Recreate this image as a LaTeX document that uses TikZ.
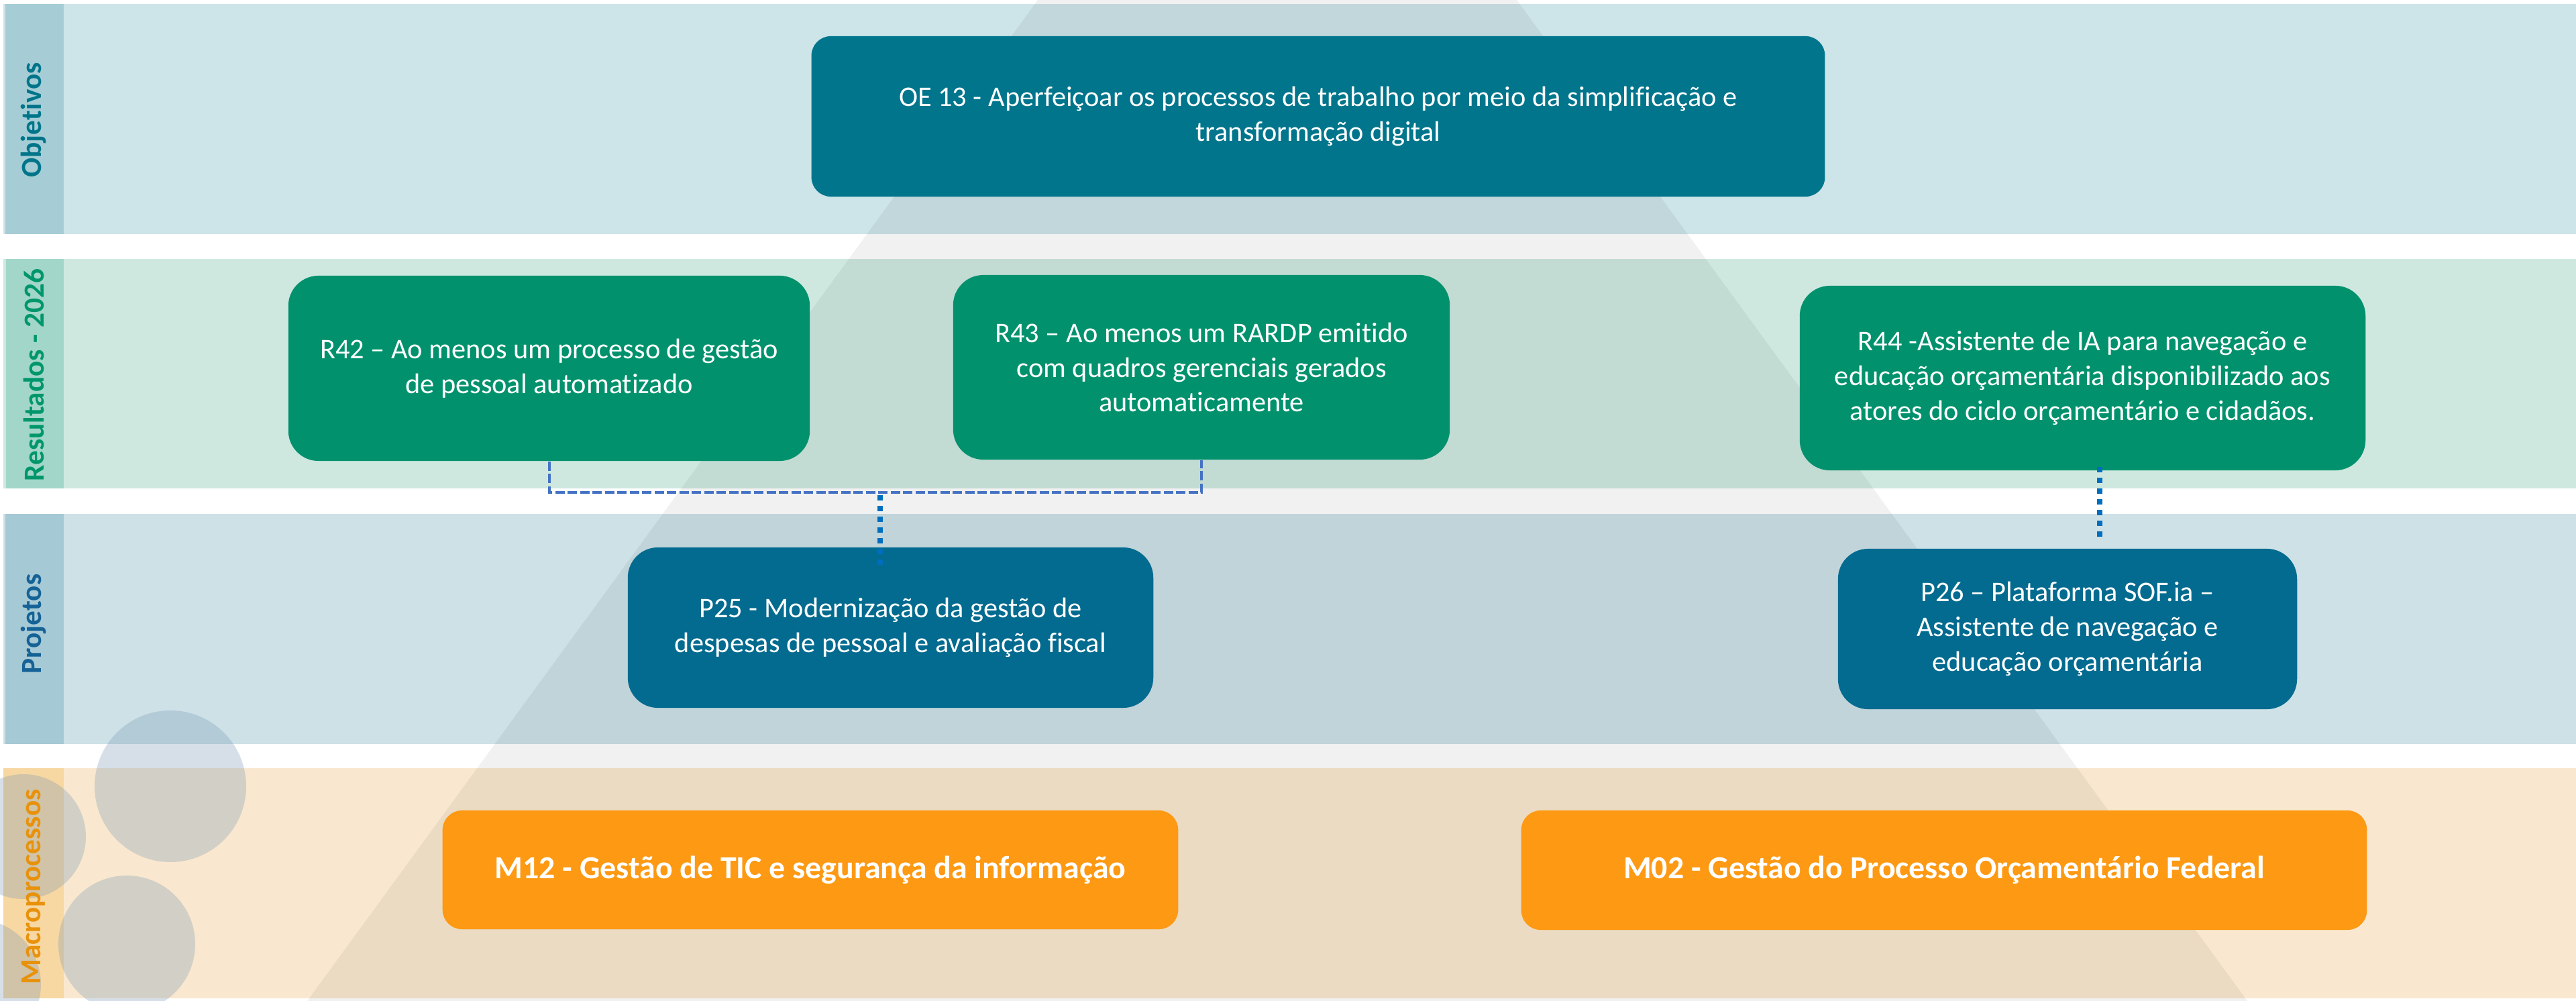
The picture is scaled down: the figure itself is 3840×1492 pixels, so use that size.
\documentclass[tikz,border=0pt]{standalone}
\usepackage{fontspec}
\setmainfont{Carlito}[Ligatures=CommonOff]
\usetikzlibrary{calc}
\definecolor{objBody}{RGB}{205,228,232}
\definecolor{objStrip}{RGB}{166,205,214}
\definecolor{objText}{RGB}{0,117,138}
\definecolor{resBody}{RGB}{206,232,224}
\definecolor{resStrip}{RGB}{162,214,200}
\definecolor{resText}{RGB}{0,150,108}
\definecolor{proBody}{RGB}{205,225,231}
\definecolor{proStrip}{RGB}{166,201,214}
\definecolor{proText}{RGB}{20,98,150}
\definecolor{macBody}{RGB}{249,232,207}
\definecolor{macStrip}{RGB}{247,215,162}
\definecolor{macText}{RGB}{232,146,12}
\definecolor{oeFill}{RGB}{0,117,140}
\definecolor{resFill}{RGB}{1,146,109}
\definecolor{proFill}{RGB}{3,107,143}
\definecolor{macFill}{RGB}{253,153,19}
\definecolor{elbowBlue}{RGB}{68,114,196}
\definecolor{dotBlue}{RGB}{0,110,190}
\definecolor{circ}{RGB}{120,150,180}
\begin{document}
\begin{tikzpicture}[x=0.01cm,y=-0.01cm,
  box/.style={inner sep=0pt, align=center, text=white,
    font=\fontsize{12.05pt}{14.7pt}\selectfont},
  rbox/.style={box, rounded corners=0.45cm},
  sbox/.style={box, rounded corners=0.29cm},
  mbox/.style={sbox, fill=macFill, font=\fontsize{13.6pt}{16pt}\selectfont\bfseries},
  lanelabel/.style={rotate=90, inner sep=0pt, font=\fontsize{12.3pt}{14pt}\selectfont\bfseries},
  elbow/.style={draw=elbowBlue, line width=0.04cm, dash pattern=on 0.14cm off 0.045cm},
  dotline/.style={draw=dotBlue, line width=0.08cm, dash pattern=on 0.08cm off 0.08cm},
  bubble/.style={fill=circ, fill opacity=0.3}
]
\useasboundingbox (0,0) rectangle (3840,1492);
\fill[white] (0,0) rectangle (3840,1492);
% lanes
\fill[objBody] (5,6) rectangle (3840,349);
\fill[objStrip] (8,6) rectangle (95,349);
\fill[resBody] (5,386) rectangle (3840,728);
\fill[resStrip] (9,386) rectangle (95,728);
\fill[proBody] (5,766) rectangle (3840,1109);
\fill[proStrip] (8,766) rectangle (95,1109);
\fill[macBody] (5,1145) rectangle (3840,1488);
\fill[macStrip] (5,1145) rectangle (95,1488);
% big translucent triangle
\fill[black, fill opacity=0.055] (1547,0) -- (2261,0) -- (3350,1492) -- (458,1492) -- cycle;
% bubbles
\fill[bubble] (254,1172) circle (113);
\fill[bubble] (189,1407) circle (102);
\fill[bubble] (35,1247) circle (93);
\fill[bubble] (-36,1467) circle (97);
% lane labels
\node[lanelabel, text=objText] (lo) at (50,179) {Objetivos};
\node[lanelabel, text=resText] (lr) at (50,559) {Resultados - 2026};
\node[lanelabel, text=proText] (lp) at (50,930) {Projetos};
\node[lanelabel, text=macText] (lm) at (50,1322) {Macroprocessos};
% boxes
\node[sbox, fill=oeFill, minimum width=15.1cm, minimum height=2.39cm] (oe) at (1965,173.5)
  {OE 13 - Aperfeiçoar os processos de trabalho por meio da simplificação e\\transformação digital};
\node[rbox, fill=resFill, minimum width=7.77cm, minimum height=2.76cm] (r42) at (818.5,549)
  {R42 – Ao menos um processo de gestão\\de pessoal automatizado};
\node[rbox, fill=resFill, minimum width=7.40cm, minimum height=2.75cm] (r43) at (1791,547.5)
  {R43 – Ao menos um RARDP emitido\\com quadros gerenciais gerados\\automaticamente};
\node[rbox, fill=resFill, minimum width=8.43cm, minimum height=2.75cm] (r44) at (3104.5,563.5)
  {R44 -Assistente de IA para navegação e\\educação orçamentária disponibilizado aos\\atores do ciclo orçamentário e cidadãos.};
\node[rbox, fill=proFill, minimum width=7.83cm, minimum height=2.39cm] (p25) at (1327.5,935.5)
  {P25 - Modernização da gestão de\\despesas de pessoal e avaliação fiscal};
\node[rbox, fill=proFill, minimum width=6.84cm, minimum height=2.39cm] (p26) at (3082,937.5)
  {P26 – Plataforma SOF.ia –\\Assistente de navegação e\\educação orçamentária};
\node[mbox, minimum width=10.96cm, minimum height=1.77cm] (m12) at (1208,1296.5)
  {M12 - Gestão de TIC e segurança da informação};
\node[mbox, minimum width=12.60cm, minimum height=1.78cm] (m02) at (2898,1297)
  {M02 - Gestão do Processo Orçamentário Federal};
% connectors
\coordinate (hb) at (0,734);
\coordinate (m1) at (1312,738);
\coordinate (k2) at (3130,0);
\draw[elbow] (r42.south) -- (r42.south |- hb) -| (r43.south);
\draw[dotline] (m1) -- ($(p25.north -| m1)+(0,27)$);
\draw[dotline] ($(r44.south -| k2)+(0,-6)$) -- ($(p26.north -| k2)+(0,-10)$);
\end{tikzpicture}
\end{document}
